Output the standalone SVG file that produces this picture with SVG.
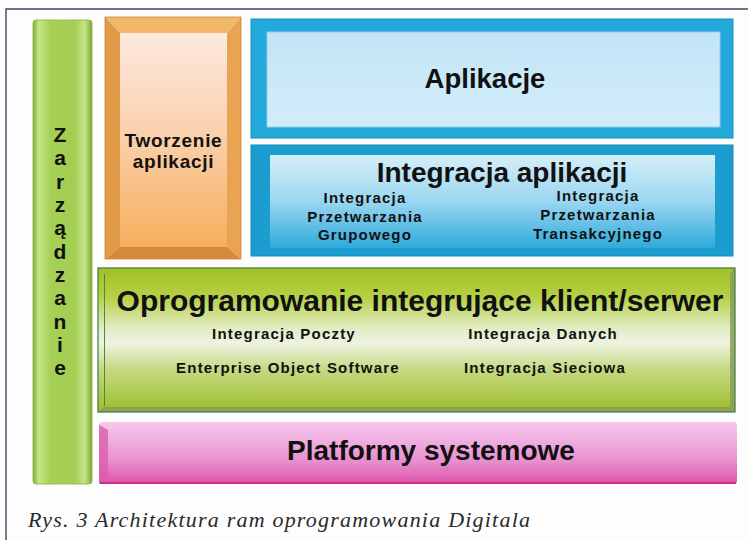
<svg xmlns="http://www.w3.org/2000/svg" width="748" height="540" viewBox="0 0 748 540">
<defs>
<linearGradient id="gBar" x1="0" y1="0" x2="1" y2="0">
<stop offset="0" stop-color="#7fae32"/>
<stop offset="0.1" stop-color="#c6e68c"/>
<stop offset="0.3" stop-color="#a6d056"/>
<stop offset="0.7" stop-color="#a4ce52"/>
<stop offset="0.88" stop-color="#c4e488"/>
<stop offset="1" stop-color="#7aa82e"/>
</linearGradient>
<linearGradient id="gOrange" x1="0" y1="0" x2="0" y2="1">
<stop offset="0" stop-color="#fde8e0"/>
<stop offset="0.45" stop-color="#fbd2b0"/>
<stop offset="1" stop-color="#f6ae5c"/>
</linearGradient>
<linearGradient id="gApl" x1="0" y1="0" x2="0" y2="1">
<stop offset="0" stop-color="#c2e4f6"/>
<stop offset="1" stop-color="#d2edfa"/>
</linearGradient>
<linearGradient id="gInt" x1="0" y1="0" x2="0" y2="1">
<stop offset="0" stop-color="#d6eff9"/>
<stop offset="0.5" stop-color="#9ad6f0"/>
<stop offset="1" stop-color="#2eaadc"/>
</linearGradient>
<linearGradient id="gGreen" x1="0" y1="0" x2="0" y2="1">
<stop offset="0" stop-color="#a0c024"/>
<stop offset="0.2" stop-color="#b6d044"/>
<stop offset="0.42" stop-color="#e2ecc4"/>
<stop offset="0.52" stop-color="#eef3e2"/>
<stop offset="0.7" stop-color="#c6da84"/>
<stop offset="1" stop-color="#9cbc2a"/>
</linearGradient>
<linearGradient id="gPink" x1="0" y1="0" x2="0" y2="1">
<stop offset="0" stop-color="#f6c8ea"/>
<stop offset="0.35" stop-color="#eeaade"/>
<stop offset="0.65" stop-color="#e88ccc"/>
<stop offset="1" stop-color="#dc52aa"/>
</linearGradient>
<style>
.t { font-family: "Liberation Sans", Arial, sans-serif; font-weight: bold; fill: #111; text-anchor: middle; }
.big { font-size: 28px; }
.sm { font-size: 15px; letter-spacing: 1.2px; }
.vl { font-size: 21px; }
.cap { font-family: "Liberation Serif", "Times New Roman", serif; font-style: italic; font-size: 22px; fill: #2a2a2a; }
</style>
</defs>
<rect x="0" y="0" width="748" height="540" fill="#fdfdfd"/>
<g id="frame" fill="none" stroke="#3c4a66" stroke-width="1.4">
<path d="M6 540 V9 H748"/>
</g>

<g id="zarzadzanie">
<rect x="33" y="20" width="59" height="464" rx="3" fill="url(#gBar)" stroke="#86b23c" stroke-width="0.8"/>
<text class="t vl" x="60" y="142">Z</text>
<text class="t vl" x="60" y="165.3">a</text>
<text class="t vl" x="60" y="188.6">r</text>
<text class="t vl" x="60" y="212">z</text>
<text class="t vl" x="60" y="235.3">ą</text>
<text class="t vl" x="60" y="258.6">d</text>
<text class="t vl" x="60" y="282">z</text>
<text class="t vl" x="60" y="305.3">a</text>
<text class="t vl" x="60" y="328.6">n</text>
<text class="t vl" x="60" y="352">i</text>
<text class="t vl" x="60" y="375.3">e</text>
</g>

<g id="tworzenie">
<polygon points="105,17 241,17 227,33 120,33" fill="#f2b86a"/>
<polygon points="105,17 120,33 120,247 105,259" fill="#e09a48"/>
<polygon points="241,17 241,259 227,247 227,33" fill="#e8a452"/>
<polygon points="105,259 120,247 227,247 241,259" fill="#d58a3a"/>
<rect x="120" y="33" width="107" height="214" fill="url(#gOrange)"/>
<rect x="105" y="17" width="136" height="242" fill="none" stroke="#c88838" stroke-width="0.8"/>
<text class="t" style="font-size:19px;letter-spacing:0.7px" x="173.5" y="147">Tworzenie</text>
<text class="t" style="font-size:19px;letter-spacing:0.7px" x="173.5" y="168">aplikacji</text>
</g>

<g id="aplikacje">
<rect x="251" y="19" width="482" height="119" fill="#22a9da" stroke="#1890c0" stroke-width="1"/>
<rect x="267" y="32" width="453" height="95" fill="url(#gApl)" stroke="#8fd0ee" stroke-width="1"/>
<text class="t" style="font-size:27.5px" x="485" y="88">Aplikacje</text>
</g>

<g id="integracja-aplikacji">
<rect x="251" y="145" width="482" height="111" fill="#1b9ecf" stroke="#1888b8" stroke-width="1"/>
<rect x="270" y="155" width="445" height="93" fill="url(#gInt)"/>
<text class="t big" x="502" y="182">Integracja aplikacji</text>
<text class="t sm" x="365" y="203">Integracja</text>
<text class="t sm" x="365" y="222">Przetwarzania</text>
<text class="t sm" x="365" y="240">Grupowego</text>
<text class="t sm" x="598" y="201">Integracja</text>
<text class="t sm" x="598" y="220">Przetwarzania</text>
<text class="t sm" x="598" y="239">Transakcyjnego</text>
</g>

<g id="oprogramowanie">
<rect x="98" y="268" width="637" height="144" fill="url(#gGreen)"/>
<polygon points="735,268 735,412 730,407 730,273" fill="#8c9c58" opacity="0.85"/>
<polygon points="98,412 735,412 730,407 104,407" fill="#8a9a5a" opacity="0.8"/>
<line x1="104.5" y1="274" x2="104.5" y2="406" stroke="#4a8a44" stroke-width="1"/>
<rect x="98" y="268" width="637" height="144" fill="none" stroke="#3c7a44" stroke-width="1.2"/>
<text class="t" style="font-size:30px" x="420" y="311">Oprogramowanie integrujące klient/serwer</text>
<text class="t sm" x="284" y="339">Integracja Poczty</text>
<text class="t sm" x="543" y="339">Integracja Danych</text>
<text class="t sm" x="288" y="373">Enterprise Object Software</text>
<text class="t sm" x="545" y="373">Integracja Sieciowa</text>
</g>

<g id="platformy">
<rect x="99" y="422" width="638" height="62" rx="3" fill="url(#gPink)"/>
<polygon points="99,425 108,430 108,478 99,484" fill="#dc5cae" opacity="0.8"/>
<line x1="100" y1="483" x2="736" y2="483" stroke="#c82c88" stroke-width="2"/>
<text class="t" style="font-size:28px" x="431" y="460">Platformy systemowe</text>
</g>

<text class="cap" x="28" y="527" textLength="502" lengthAdjust="spacing">Rys. 3 Architektura ram oprogramowania Digitala</text>
</svg>
